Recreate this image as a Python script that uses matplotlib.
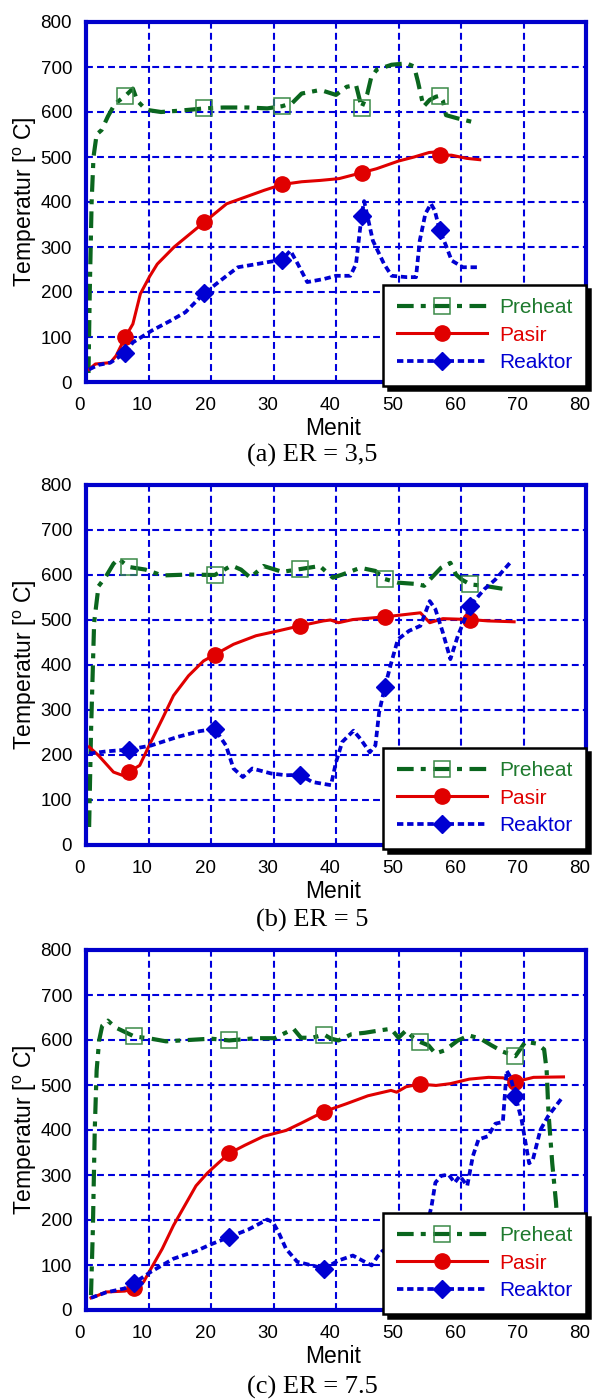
import matplotlib
matplotlib.use("Agg")
import matplotlib.pyplot as plt
from matplotlib.transforms import ScaledTranslation

plt.rcParams['font.family'] = ['Liberation Sans', 'DejaVu Sans']
plt.rcParams['mathtext.fontset'] = 'custom'
plt.rcParams['mathtext.rm'] = 'Liberation Sans'

series_names = ['Preheat', 'Pasir', 'Reaktor']
captions = ['(a) ER = 3,5', '(b) ER = 5', '(c) ER = 7.5']
x_ticks = [0, 10, 20, 30, 40, 50, 60, 70, 80]
y_ticks = [0, 100, 200, 300, 400, 500, 600, 700, 800]

# (a) ER = 3,5
a_marks = [6.3, 18.9, 31.4, 44.1, 56.6]
a_t_preheat = [0.4, 0.6, 0.9, 1.2, 1.7, 2.5, 3.5, 4.3, 5.0, 6.3, 7.5, 8.2, 9.6, 12, 15, 18.9, 22, 26, 29,
               31.4, 33, 34.5, 37.5, 40, 41.7, 43.2, 44.1, 45.0, 45.6, 46.5, 48.9, 51.3, 52.5, 53.1, 54.0,
               55.0, 56.0, 56.6, 57.1, 57.6, 59.4, 61.8]
a_preheat = [20, 200, 400, 500, 550, 560, 590, 610, 622, 636, 652, 625, 605, 600, 603, 608, 610, 610, 608,
             613, 620, 641, 649, 638, 656, 660, 610, 640, 675, 694, 705, 708, 701, 668, 612,
             627, 634, 636, 625, 593, 586, 578]
a_t_pasir = [0.5, 1.5, 3.9, 4.8, 6.3, 7.5, 8.7, 10.2, 11.4, 14.1, 18.9, 22.5, 25.5, 28.5, 31.4, 34.5, 37.5,
             40.5, 44.1, 46.5, 50, 52.5, 54.9, 55.8, 56.6, 58.5, 60.9, 63]
a_pasir = [28, 40, 43, 58, 100, 129, 196, 235, 262, 300, 355, 396, 411, 426, 439, 445, 448,
           452, 465, 474, 491, 500, 510, 511, 504, 504, 497, 494]
a_t_reaktor = [0.5, 2.0, 3.9, 5.1, 6.3, 7.5, 10.5, 13.5, 15.9, 18.9, 22.5, 24.3, 27.3, 31.4, 32.7, 33.9,
               35.4, 38.1, 40.0, 42.3, 43.2, 44.1, 44.5, 45.9, 47.7, 48.9, 51.3, 52.8, 53.4, 54.3, 55.2,
               55.8, 56.6, 57.6, 58.5, 60.3, 62.7]
a_reaktor = [28, 38, 43, 54, 65, 88, 114, 136, 155, 197, 236, 255, 262, 272, 292, 262,
             222, 229, 236, 236, 262, 370, 402, 314, 262, 236, 233, 233, 314, 374, 396,
             381, 337, 303, 270, 255, 255]

# (b) ER = 5
b_marks = [6.8, 20.6, 34.2, 47.8, 61.5]
b_t_preheat = [0.5, 0.8, 1.3, 2.0, 3.2, 4.4, 5.2, 6.8, 9.5, 12.2, 16.4, 20.6, 23.3, 24.8, 26.3, 28.4, 31.4,
               34.2, 37.4, 39.5, 41.0, 43.9, 46.3, 47.8, 49.9, 52.9, 54.1, 55.3, 56.8, 58.3, 59.2, 60.1,
               61.5, 63.7, 67.3]
b_preheat = [40, 250, 494, 575, 597, 625, 636, 618, 612, 599, 601, 600, 621, 612, 594, 620, 607,
             613, 620, 594, 601, 616, 609, 591, 583, 580, 576, 594, 616, 627, 601, 590,
             579, 576, 568]
b_t_pasir = [0.5, 2.0, 4.4, 5.8, 6.8, 8.6, 10.1, 12.2, 14.0, 16.4, 18.8, 20.6, 23.6, 27.2, 30.8, 34.2, 38.0,
             39.1, 40.4, 42.7, 47.8, 53.5, 55.0, 57.1, 61.5, 64.3, 68.5]
b_pasir = [218, 199, 162, 155, 162, 177, 221, 280, 332, 376, 409, 423, 446, 465, 476, 487, 498,
           500, 494, 501, 507, 516, 494, 503, 501, 498, 496]
b_t_reaktor = [0.5, 3.2, 6.8, 10.4, 14.6, 18.2, 20.6, 22.4, 23.6, 25.1, 26.6, 29.6, 32.0, 34.2, 36.2, 39.2,
               40.0, 41.0, 42.8, 43.9, 45.4, 46.3, 46.9, 47.8, 48.7, 49.9, 51.7, 53.5, 55.0, 55.9, 57.1,
               58.3, 59.5, 61.5, 63.7, 65.5, 67.9]
b_reaktor = [203, 208, 212, 221, 240, 253, 258, 221, 170, 151, 170, 159, 155, 156, 140, 133,
             184, 229, 254, 236, 206, 221, 295, 350, 398, 457, 476, 487, 542, 524, 472,
             413, 465, 532, 568, 590, 628]

# (c) ER = 7.5
c_marks = [7.7, 22.9, 38.1, 53.4, 68.7]
c_t_preheat = [0.8, 1.1, 1.4, 1.7, 2.1, 2.6, 3.5, 4.7, 7.7, 10.4, 12.8, 16.4, 20.0, 22.9, 27.2, 30.2, 33.2,
               34.4, 36.2, 38.1, 39.2, 40.4, 42.5, 44.6, 46.4, 48.8, 50.0, 51.2, 52.4, 53.4, 54.8, 55.9,
               57.4, 59.5, 61.3, 63.1, 64.9, 66.7, 68.7, 70.3, 72.1, 73.3, 73.7, 74.0, 74.6, 75.2, 75.6]
c_preheat = [33, 180, 400, 532, 599, 632, 643, 628, 608, 603, 597, 600, 603, 599, 604, 604, 625,
             605, 605, 612, 603, 599, 613, 616, 620, 625, 605, 621, 605, 596, 588, 570,
             577, 599, 610, 603, 588, 574, 564, 596, 592, 579, 533, 438, 326, 239, 150]
c_t_pasir = [0.8, 2.0, 3.2, 6.2, 7.7, 9.2, 10.4, 12.2, 14.0, 15.8, 17.6, 19.4, 21.2, 22.9, 25.4, 28.4, 32.0,
             34.4, 38.1, 41.6, 45.1, 48.8, 49.7, 51.2, 53.4, 56.0, 58.3, 61.3, 64.4, 66.7, 68.7, 71.6, 76.4]
c_pasir = [27, 33, 40, 42, 48, 62, 92, 136, 188, 232, 276, 304, 327, 348, 366, 386, 399,
           415, 441, 458, 476, 488, 484, 496, 502, 499, 503, 513, 517, 516, 507, 517, 518]
c_t_reaktor = [0.8, 3.2, 6.2, 7.7, 10.4, 14.0, 17.6, 20.0, 22.9, 26.0, 29.0, 29.9, 30.8, 32.0, 33.8, 36.2,
               38.1, 40.4, 42.7, 44.6, 45.7, 46.6, 47.5, 49.5, 51.5, 53.4, 54.6, 55.3, 55.9, 56.8, 58.0,
               59.0, 59.8, 61.0, 61.9, 62.8, 64.3, 65.5, 66.7, 67.3, 67.9, 68.7, 69.7, 70.9, 71.5, 72.7,
               73.9, 76.3]
c_reaktor = [27, 39, 48, 60, 85, 114, 131, 146, 162, 179, 201, 195, 173, 136, 107, 99,
             92, 110, 121, 107, 99, 118, 132, 125, 140, 150, 190, 232, 283, 298, 301,
             283, 298, 276, 342, 379, 386, 414, 418, 532, 518, 476, 422, 326, 334, 400,
             430, 474]

panels = [
    (a_marks, [(a_t_preheat, a_preheat), (a_t_pasir, a_pasir), (a_t_reaktor, a_reaktor)]),
    (b_marks, [(b_t_preheat, b_preheat), (b_t_pasir, b_pasir), (b_t_reaktor, b_reaktor)]),
    (c_marks, [(c_t_preheat, c_preheat), (c_t_pasir, c_pasir), (c_t_reaktor, c_reaktor)]),
]

green = '#0a661e'
red = '#e00000'
blue = '#0000d2'
styles = [
    dict(color=green, lw=3.0, ls=(0, (4.0, 1.7, 1.2, 1.8)), marker='s', ms=11,
         mfc='none', mec='#3b8a48', mew=1.1),
    dict(color=red, lw=2.2, ls='-', marker='o', ms=11, mfc=red, mec=red),
    dict(color=blue, lw=2.7, ls=(0, (1.7, 1.0)), marker='D', ms=9, mfc=blue, mec=blue),
]
text_colors = ['#1e7a2e', red, blue]

W, H = 592, 1399
fig = plt.figure(figsize=(W / 100, H / 100), dpi=100)
tops = [22, 485, 950]
ax_h = 360
cap_y = [455, 920, 1387]

for i, (marks, data) in enumerate(panels):
    top = tops[i]
    ax = fig.add_axes([86 / W, 1 - (top + ax_h) / H, 500 / W, ax_h / H])
    for (t, v), st in zip(data, styles):
        idx = [t.index(m) for m in marks if m in t]
        ax.plot(t, v, markevery=idx, **st)
    ax.set_xlim(0, 80)
    ax.set_ylim(0, 800)
    ax.set_xticks(x_ticks)
    ax.set_yticks(y_ticks)
    ax.grid(True, color='#0000dd', lw=1.5, ls=(0, (3.3, 2.0)))
    ax.set_axisbelow(True)
    for sp in ax.spines.values():
        sp.set_color('#0000cc')
        sp.set_linewidth(3.0)
    ax.tick_params(length=0, labelsize=13.5, pad=10)
    ax.tick_params(axis='x', pad=11)
    off = ScaledTranslation(-6 / 100, 0, fig.dpi_scale_trans)
    for lab in ax.get_xticklabels():
        lab.set_transform(lab.get_transform() + off)
    ax.set_xlabel('Menit', fontsize=16.5)
    ax.xaxis.set_label_coords(0.494, -0.098)
    ax.set_ylabel('Temperatur [$^{\\mathrm{o}}$ C]', fontsize=16.5)
    ax.yaxis.set_label_coords(-0.094, 0.5)
    leg = ax.legend(series_names, loc='lower right', bbox_to_anchor=(1.0, -0.01),
                    borderaxespad=0, fontsize=15, numpoints=1, handlelength=4.3,
                    handletextpad=0.6, borderpad=0.65, labelspacing=0.4,
                    fancybox=False, framealpha=1, edgecolor='black',
                    shadow={'ox': 3.2, 'oy': -3.2, 'color': 'black', 'alpha': 1.0})
    leg.get_frame().set_linewidth(1.8)
    for txt, c in zip(leg.get_texts(), text_colors):
        txt.set_color(c)
    fig.text(312 / W, 1 - cap_y[i] / H, captions[i], ha='center', va='center',
             fontsize=19, family=['Liberation Serif', 'DejaVu Serif'])

fig.savefig('out.png', dpi=100)
